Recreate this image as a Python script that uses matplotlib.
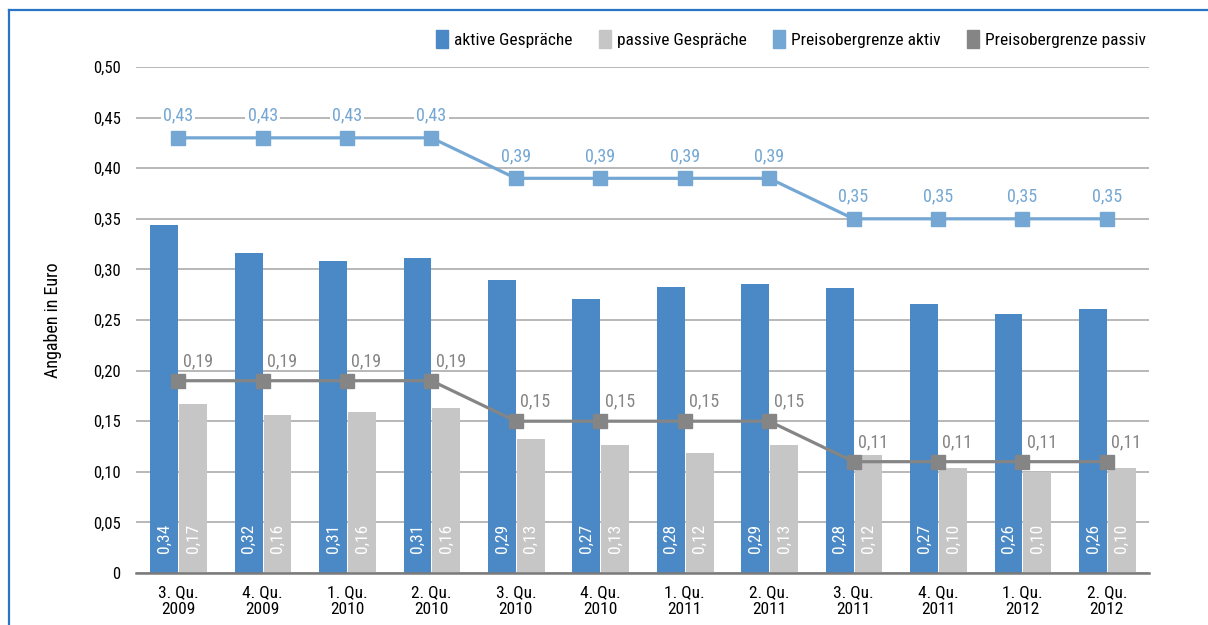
import matplotlib
matplotlib.use('Agg')
import matplotlib.pyplot as plt
import numpy as np
from matplotlib.patches import Patch
from matplotlib.lines import Line2D

plt.rcParams['font.family'] = ['Roboto Condensed', 'Liberation Sans Narrow', 'DejaVu Sans']

quarters = ['3. Qu.\n2009', '4. Qu.\n2009', '1. Qu.\n2010', '2. Qu.\n2010',
            '3. Qu.\n2010', '4. Qu.\n2010', '1. Qu.\n2011', '2. Qu.\n2011',
            '3. Qu.\n2011', '4. Qu.\n2011', '1. Qu.\n2012', '2. Qu.\n2012']
aktiv = [0.344, 0.316, 0.308, 0.311, 0.290, 0.271, 0.283, 0.286, 0.282, 0.266, 0.256, 0.261]
passiv = [0.167, 0.156, 0.159, 0.163, 0.132, 0.126, 0.119, 0.126, 0.117, 0.104, 0.100, 0.104]
grenze_aktiv = [0.43, 0.43, 0.43, 0.43, 0.39, 0.39, 0.39, 0.39, 0.35, 0.35, 0.35, 0.35]
grenze_passiv = [0.19, 0.19, 0.19, 0.19, 0.15, 0.15, 0.15, 0.15, 0.11, 0.11, 0.11, 0.11]

c_aktiv = '#4a89c5'
c_passiv = '#c6c6c6'
c_ga = '#74a7d4'
c_gp = '#858585'

def fmt(v):
    return f'{v:.2f}'.replace('.', ',')

fig = plt.figure(figsize=(12.08, 6.25), dpi=100)
ax = fig.add_axes([136 / 1208, 1 - 573 / 625, (1149 - 136) / 1208, (573 - 67) / 625])

x = np.arange(len(quarters))
w = 0.33
b1 = ax.bar(x - w / 2, aktiv, w, color=c_aktiv, zorder=2)
b2 = ax.bar(x + w / 2 + 0.012, passiv, w, color=c_passiv, zorder=2)

# values written vertically into the foot of each bar
for rect, v in zip(b1, aktiv):
    ax.text(rect.get_x() + rect.get_width() / 2, 0.034, fmt(v), rotation=90,
            ha='center', va='center', color='white', fontsize=12.5, zorder=3)
for rect, v in zip(b2, passiv):
    ax.text(rect.get_x() + rect.get_width() / 2, 0.034, fmt(v), rotation=90,
            ha='center', va='center', color='white', fontsize=12.5, zorder=3)

ax.plot(x, grenze_aktiv, color=c_ga, lw=2.3, marker='s', ms=9.5, zorder=4)
ax.plot(x, grenze_passiv, color=c_gp, lw=2.3, marker='s', ms=9.5, zorder=4)

for xi, v in zip(x, grenze_aktiv):
    ax.annotate(fmt(v), (xi, v), xytext=(0, 16), textcoords='offset points',
                ha='center', va='center', color=c_ga, fontsize=13, zorder=5,
                bbox=dict(boxstyle='square,pad=0.12', fc='white', ec='none'))
for xi, v in zip(x, grenze_passiv):
    ax.annotate(fmt(v), (xi, v), xytext=(14, 14), textcoords='offset points',
                ha='center', va='center', color=c_gp, fontsize=13, zorder=5)

ax.set_xlim(-0.5, len(quarters) - 0.5)
ax.set_ylim(0, 0.5)
ax.set_yticks(np.arange(0, 0.501, 0.05))
ax.set_yticklabels(['0'] + [fmt(t) for t in np.arange(0.05, 0.501, 0.05)])
ax.set_xticks(x)
ax.set_xticklabels(quarters, fontsize=12.5, linespacing=1.1)
ax.tick_params(axis='both', length=0, labelsize=12)
ax.tick_params(axis='x', labelsize=12.5)
ax.tick_params(axis='y', pad=11)
ax.tick_params(axis='x', pad=9)
ax.yaxis.grid(True, color='#ababab', lw=1.2, zorder=0)
ax.set_axisbelow(True)
for s in ['top', 'right', 'left']:
    ax.spines[s].set_visible(False)
ax.spines['bottom'].set_color('#7a7a7a')
ax.spines['bottom'].set_linewidth(1.8)
ax.set_ylabel('Angaben in Euro', fontsize=13, labelpad=22)

handles = [Patch(color=c_aktiv), Patch(color=c_passiv), Patch(color=c_ga), Patch(color=c_gp)]
labels = ['aktive Gespräche', 'passive Gespräche', 'Preisobergrenze aktiv', 'Preisobergrenze passiv']
fig.legend(handles, labels, ncol=4, loc='center right', bbox_to_anchor=(1153 / 1208, 1 - 39 / 625),
           frameon=False, fontsize=12.5, handlelength=0.7, handleheight=1.3, handletextpad=0.35,
           columnspacing=1.5, borderaxespad=0)

# blue frame along top and left edge
fig.add_artist(Line2D([9 / 1208, 9 / 1208], [0, 1 - 10 / 625], transform=fig.transFigure,
                      color='#2a74c6', lw=1.6))
fig.add_artist(Line2D([9 / 1208, 1], [1 - 10 / 625, 1 - 10 / 625], transform=fig.transFigure,
                      color='#2a74c6', lw=1.6))

fig.savefig('out.png', dpi=100)
